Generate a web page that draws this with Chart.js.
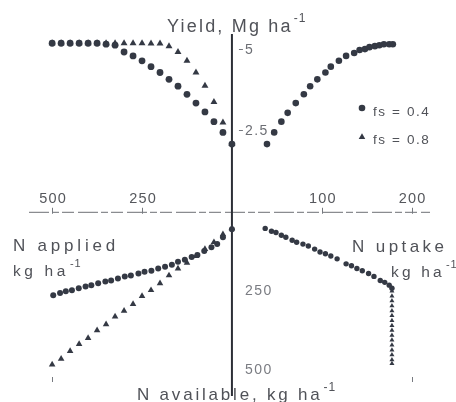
<!DOCTYPE html>
<html>
<head>
<meta charset="utf-8">
<script src="https://cdn.jsdelivr.net/npm/chart.js@4"></script>
<style>
  html, body { margin: 0; padding: 0; background: #ffffff; }
  #c { display: block; }
</style>
</head>
<body>
<canvas id="c" width="456" height="402"></canvas>
<script>
// ---- Data -------------------------------------------------------------
// Upper left: grain yield (Mg/ha) against N applied (kg/ha)
const nApplied = [500, 475, 450, 425, 400, 375, 350, 325, 300, 275, 250, 225, 200, 175, 150, 125, 100, 75, 50, 25, 0];
const yieldFs04 = [5.18, 5.18, 5.18, 5.18, 5.18, 5.18, 5.15, 5.12, 4.91, 4.79, 4.64, 4.46, 4.28, 4.07, 3.86, 3.61, 3.34, 3.07, 2.77, 2.44, 2.08];
const yieldFs08 = [5.18, 5.18, 5.18, 5.18, 5.18, 5.18, 5.18, 5.18, 5.18, 5.18, 5.18, 5.17, 5.17, 5.09, 4.91, 4.64, 4.28, 3.87, 3.37, 2.74, 2.08];

// Upper right: grain yield against N uptake (kg/ha)
const uptakeTop = [39, 47, 55, 62, 71, 80, 87, 95, 104, 110, 119, 127, 136, 142, 148, 153, 159, 164, 169, 175, 179];
const yieldTop = [2.08, 2.44, 2.77, 3.04, 3.34, 3.61, 3.86, 4.07, 4.28, 4.46, 4.64, 4.79, 4.88, 4.97, 5.0, 5.06, 5.09, 5.12, 5.15, 5.15, 5.15];

// Lower left: N available against N applied
const appliedLowFs04 = [497, 478, 462, 445, 426, 407, 391, 372, 352, 336, 317, 298, 281, 260, 243, 224, 205, 186, 167, 150, 131, 112, 96, 77, 57, 41, 25, 0];
const availLowFs04 = [266, 259, 253, 250, 244, 238, 234, 228, 222, 219, 213, 206, 203, 197, 191, 188, 181, 175, 169, 159, 153, 144, 138, 125, 113, 103, 81, 56];
const availLowFs08 = [487, 469, 444, 422, 403, 378, 359, 334, 316, 294, 269, 250, 228, 203, 181, 163, 141, 119, 97, 72, 53];

// Lower right: N available against N uptake
const uptakeLow = [37, 44, 49, 55, 60, 67, 72, 79, 85, 92, 98, 104, 110, 117, 127, 133, 139, 145, 152, 158, 165, 170, 175, 178];
const availLow = [53, 62, 66, 75, 81, 91, 97, 103, 109, 119, 128, 134, 141, 150, 166, 172, 181, 188, 197, 206, 219, 225, 234, 244];
const uptakeCap = [178, 178, 178, 178, 178, 178, 178, 178, 178, 178, 178, 178, 178, 178, 178, 178];
const availCap = [253, 269, 284, 300, 316, 331, 347, 363, 378, 394, 409, 425, 441, 456, 472, 484];

// Tick labels
const appliedTicks = [500, 250];
const uptakeTicks = [100, 200];
const yieldTicks = [5, 2.5];
const availTicks = [250, 500];

const seriesLabels = ['fs = 0.4', 'fs = 0.8'];

// ---- Helpers ----------------------------------------------------------
const zip = (xs, ys) => xs.map((x, i) => ({ x, y: ys[i] }));
const INK = '#343944';
const TEXT = '#505258';
const SOFT = '#6c6e74';

// ---- Quadrant scales: all four share one origin ----------------------
const W = 456, H = 402;
const originX = 232, originY = 212;
const pxPerApplied = 0.366, pxPerUptake = 0.915, pxPerYield = 33.2, pxPerAvail = 0.32;

const scales = {
  xL: { type: 'linear', axis: 'x', reverse: true, display: false, bounds: 'data',
        max: originX / pxPerApplied, min: originX / pxPerApplied - W / pxPerApplied },
  xR: { type: 'linear', axis: 'x', display: false, bounds: 'data',
        min: -originX / pxPerUptake, max: -originX / pxPerUptake + W / pxPerUptake },
  yT: { type: 'linear', axis: 'y', display: false, bounds: 'data',
        max: originY / pxPerYield, min: originY / pxPerYield - H / pxPerYield },
  yB: { type: 'linear', axis: 'y', reverse: true, display: false, bounds: 'data',
        min: -originY / pxPerAvail, max: -originY / pxPerAvail + H / pxPerAvail }
};

const pt = (style, r) => ({
  pointStyle: style, pointRadius: r, pointHoverRadius: r,
  backgroundColor: INK, borderColor: INK, borderWidth: 0, showLine: false
});

const datasets = [
  Object.assign({ label: seriesLabels[0], data: zip(nApplied, yieldFs04), xAxisID: 'xL', yAxisID: 'yT' }, pt('circle', 3.4)),
  Object.assign({ label: seriesLabels[1], data: zip(nApplied, yieldFs08), xAxisID: 'xL', yAxisID: 'yT' }, pt('triangle', 4.0)),
  Object.assign({ label: seriesLabels[0], data: zip(uptakeTop, yieldTop), xAxisID: 'xR', yAxisID: 'yT' }, pt('circle', 3.3)),
  Object.assign({ label: seriesLabels[0], data: zip(appliedLowFs04, availLowFs04), xAxisID: 'xL', yAxisID: 'yB' }, pt('circle', 3.0)),
  Object.assign({ label: seriesLabels[1], data: zip(nApplied, availLowFs08), xAxisID: 'xL', yAxisID: 'yB' }, pt('triangle', 3.8)),
  Object.assign({ label: seriesLabels[0], data: zip(uptakeLow, availLow), xAxisID: 'xR', yAxisID: 'yB' }, pt('circle', 2.7)),
  Object.assign({ label: seriesLabels[1], data: zip(uptakeCap, availCap), xAxisID: 'xR', yAxisID: 'yB' }, pt('triangle', 2.9))
];

// text with letter spacing and an optional "-1" superscript
function label(ctx, str, x, y, size, spacing, sup, color) {
  ctx.save();
  ctx.fillStyle = color || TEXT;
  ctx.font = size + 'px "Liberation Sans", Arial, sans-serif';
  ctx.letterSpacing = spacing + 'px';
  ctx.textAlign = 'left';
  ctx.textBaseline = 'alphabetic';
  ctx.fillText(str, x, y);
  const w = ctx.measureText(str).width;
  if (sup) {
    ctx.font = Math.round(size * 0.68) + 'px "Liberation Sans", Arial, sans-serif';
    ctx.letterSpacing = '1px';
    ctx.fillText(sup, x + w + 1, y - size * 0.55);
  }
  ctx.restore();
}

function tickText(ctx, str, x, y, size, align, spacing, color) {
  ctx.save();
  ctx.fillStyle = color || SOFT;
  ctx.font = size + 'px "Liberation Sans", Arial, sans-serif';
  ctx.letterSpacing = spacing + 'px';
  ctx.textAlign = align;
  ctx.textBaseline = 'alphabetic';
  ctx.fillText(str, x, y);
  ctx.restore();
}

const quadrantAxes = {
  id: 'quadrantAxes',
  beforeDatasetsDraw(chart) {
    const { ctx } = chart;
    const s = chart.scales;
    const x0 = s.xR.getPixelForValue(0);
    const y0 = s.yT.getPixelForValue(0);
    ctx.save();
    // broken horizontal baseline
    ctx.strokeStyle = '#8a8c90';
    ctx.lineWidth = 1.2;
    ctx.setLineDash([20, 3, 7, 3, 12, 4]);
    ctx.beginPath();
    ctx.moveTo(29, y0 + 0.5);
    ctx.lineTo(430, y0 + 0.5);
    ctx.stroke();
    ctx.setLineDash([]);
    // ticks on the baseline
    ctx.strokeStyle = '#777a80';
    ctx.lineWidth = 1;
    appliedTicks.forEach(v => {
      const px = Math.round(s.xL.getPixelForValue(v)) + 0.5;
      ctx.beginPath(); ctx.moveTo(px, y0 - 4); ctx.lineTo(px, y0 + 2); ctx.stroke();
    });
    uptakeTicks.forEach(v => {
      const px = Math.round(s.xR.getPixelForValue(v)) + 0.5;
      ctx.beginPath(); ctx.moveTo(px, y0 - 4); ctx.lineTo(px, y0 + 2); ctx.stroke();
    });
    // small marks at the foot of the diagram
    [s.xL.getPixelForValue(500), s.xR.getPixelForValue(200)].forEach(px => {
      ctx.beginPath(); ctx.moveTo(Math.round(px) + 0.5, 377); ctx.lineTo(Math.round(px) + 0.5, 382); ctx.stroke();
    });
    // yield ticks right of the vertical axis
    yieldTicks.forEach(v => {
      const py = Math.round(s.yT.getPixelForValue(v)) + 0.5;
      ctx.beginPath(); ctx.moveTo(x0 + 7, py); ctx.lineTo(x0 + 11, py); ctx.stroke();
    });
    // central vertical axis
    ctx.strokeStyle = '#2c2f36';
    ctx.lineWidth = 2;
    ctx.beginPath();
    ctx.moveTo(x0, 34);
    ctx.lineTo(x0, 396);
    ctx.stroke();
    ctx.restore();
  },
  afterDatasetsDraw(chart) {
    const { ctx } = chart;
    const s = chart.scales;
    const x0 = s.xR.getPixelForValue(0);

    // baseline tick labels
    appliedTicks.forEach(v => tickText(ctx, String(v), s.xL.getPixelForValue(v) + 1, 203, 14.5, 'center', 1.2, '#55575c'));
    uptakeTicks.forEach(v => tickText(ctx, String(v), s.xR.getPixelForValue(v) + 1, 203, 14.5, 'center', 1.2, '#55575c'));
    // yield tick labels
    yieldTicks.forEach(v => tickText(ctx, String(v), x0 + 13, s.yT.getPixelForValue(v) + 5, 14, 'left', 1.5, SOFT));
    // N available tick labels
    availTicks.forEach(v => tickText(ctx, String(v), x0 + 13, s.yB.getPixelForValue(v) + 5, 14, 'left', 1.5, '#7a7c82'));

    // axis titles
    label(ctx, 'Yield, Mg ha', 167, 32, 18, 2.2, '-1');
    label(ctx, 'N applied', 13, 251, 17, 3.8);
    label(ctx, 'kg ha', 13, 276, 15.5, 3.6, '-1');
    label(ctx, 'N uptake', 352, 252, 17, 3.4);
    label(ctx, 'kg ha', 391, 277, 15.5, 3.2, '-1');
    label(ctx, 'N available, kg ha', 137, 400, 17, 2.8, '-1');

    // legend
    ctx.save();
    ctx.fillStyle = INK;
    Chart.helpers.drawPoint(ctx, { pointStyle: 'circle', radius: 3.3, rotation: 0, borderWidth: 0 }, 362, 108);
    Chart.helpers.drawPoint(ctx, { pointStyle: 'triangle', radius: 3.8, rotation: 0, borderWidth: 0 }, 362, 137);
    ctx.restore();
    tickText(ctx, seriesLabels[0], 373, 116, 13.5, 'left', 1.6, TEXT);
    tickText(ctx, seriesLabels[1], 373, 144, 13.5, 'left', 1.6, TEXT);
  }
};

new Chart(document.getElementById('c'), {
  type: 'scatter',
  data: { datasets },
  options: {
    responsive: false,
    animation: false,
    events: [],
    layout: { padding: 0 },
    scales,
    plugins: { legend: { display: false }, tooltip: { enabled: false } }
  },
  plugins: [quadrantAxes]
});
</script>
</body>
</html>
